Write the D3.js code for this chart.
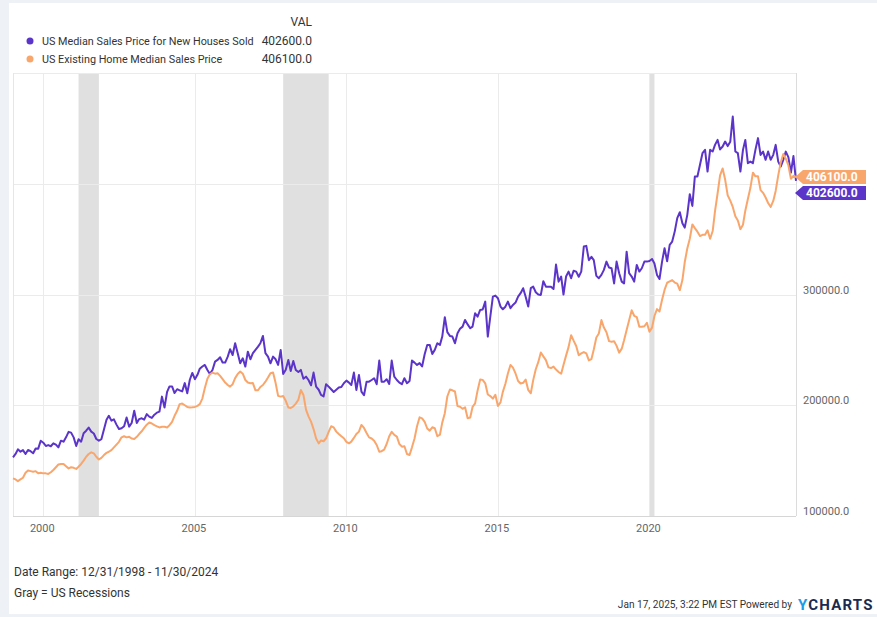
<!DOCTYPE html>
<html>
<head>
<meta charset="utf-8">
<script src="https://cdn.jsdelivr.net/npm/d3@7"></script>
<style>
  body { margin: 0; background: #eef1f5; }
  svg { display: block; font-family: Roboto, "Open Sans", sans-serif; }
</style>
</head>
<body>
<div id="chart"></div>
<script>
// monthly values in thousands of USD, Jan 1999 .. Nov 2024
const firstMonth = new Date(1999, 0, 1);

const newHouseK = [
  153, 156, 160.2, 158.1, 159.5, 156, 159.6, 158.5, 156.6, 161, 160.8, 168,
  166.2, 163.2, 164, 163, 165.6, 164.4, 162, 168, 167.1, 171, 176, 175.3,
  171, 163.2, 169.3, 167.1, 174.7, 177, 179.8, 176.2, 174.5, 169.5, 168, 169.3,
  178, 187, 190.5, 186.1, 187.3, 182.5, 178.5, 179.2, 181, 189, 180.7, 184,
  195, 184, 187.5, 188.2, 187, 192, 189.7, 188.5, 191.5, 193.3, 194.2, 207.8,
  198, 212, 217, 217, 211, 214.5, 213.5, 212.5, 220, 210.8, 223, 229.2,
  223.5, 227.5, 233, 235, 236.4, 231.9, 228.3, 231.9, 239.4, 240.9, 243.3, 238.5,
  238.5, 243.9, 250.6, 245.4, 256, 247, 237.9, 242.4, 234.9, 248.4, 241.5, 247,
  249.9, 252.9, 256, 262.6, 247, 243.9, 237.9, 243.9, 241.5, 236.4, 249.9, 228.3,
  232, 240.9, 231, 240, 231.9, 230, 231.9, 224, 225.8, 222.8, 218, 229.5,
  216.8, 214, 209.3, 208, 219, 216.8, 214.4, 212, 214, 216, 216.5, 219.9,
  222.2, 220.4, 218.3, 229.5, 213.8, 227.4, 212.3, 209, 221.3, 221.3, 222.8, 224.4,
  219, 240.3, 221.3, 221.3, 223.5, 219.2, 240.3, 225.8, 222.8, 220.4, 219, 224.4,
  219.9, 222, 240.3, 238.5, 236.4, 238, 235, 246, 254.5, 254.5, 246.3, 250,
  256, 254.5, 262, 279.5, 266, 262.6, 262, 256, 265, 269, 271, 277,
  273, 269.5, 271, 283.1, 280, 286.1, 286.5, 293.6, 262, 280, 298.1, 299,
  296.6, 289.1, 286.7, 289, 293.6, 287.6, 290.6, 292.7, 298.1, 301.2, 305.7, 298,
  289.1, 305.7, 307.1, 302, 300, 299.6, 312, 307.1, 307.1, 307.1, 305, 327,
  311.6, 316.2, 300, 316.2, 320.7, 314.7, 321.5, 320.7, 316, 320.7, 343.3, 343.9,
  331, 334, 331, 316.8, 314.7, 317.7, 322.2, 329.7, 324.3, 323.7, 310, 329.7,
  319.2, 311.6, 310, 338.7, 319.2, 316.2, 311.6, 326.7, 320.7, 323.7, 329.7, 329.7,
  330.3, 332.1, 328, 317.7, 314, 329.7, 341.8, 330, 344.8, 347.8, 357, 369,
  374.3, 364.4, 360.4, 371.9, 390.6, 380, 406.5, 406.5, 417.1, 427.6, 430.6, 411,
  430.6, 429.1, 435.1, 439.6, 431, 433.6, 438.1, 434, 438, 460.7, 429.1, 427.6,
  411, 430.6, 439.6, 418.6, 420, 418.6, 430.6, 441.2, 426, 429, 421.6, 429.1,
  421.6, 426.1, 435.1, 420, 415.5, 421.6, 429, 424, 410, 425, 402.6
];

const existingK = [
  134, 133, 131.5, 133, 134.5, 139, 141, 140.5, 140, 140.5, 138.5, 139,
  138.5, 138.5, 138, 139.5, 141.5, 144, 146.5, 147, 147, 145, 143, 144,
  143.5, 142.5, 144.5, 147, 150, 153.5, 156, 157.5, 156.5, 153.5, 151, 152.5,
  155, 157, 158, 159.5, 162, 164.5, 167, 171, 172, 171, 171.5, 170,
  169.5, 171.5, 174, 176.5, 179.5, 182.5, 184.5, 183.5, 182, 181, 180, 180.5,
  180.5, 180, 182, 185, 190.5, 195, 201, 201.5, 200, 198.5, 198, 198.2,
  198.5, 199.4, 201, 206, 215.5, 224, 228, 229.5, 228.5, 228.9, 226.5, 223.5,
  220.5, 218.3, 216.8, 219, 224.5, 228.3, 230.4, 228.5, 222.8, 220.5, 219.8, 220,
  213.5, 213.5, 216.5, 218.3, 221.3, 225, 228.9, 229.5, 220, 208.5, 207.8, 208.4,
  204, 198, 197.5, 199, 201.5, 205, 213.8, 209.3, 196, 190, 185.2, 178.5,
  170, 165.6, 168.2, 167.5, 170.2, 176, 181, 180, 176.2, 174, 172, 170.2,
  167, 165.6, 167.1, 170.5, 174, 176.2, 182.2, 179.5, 175, 171, 170, 168,
  164.1, 158, 158.5, 160, 165, 172, 176, 173.2, 171.7, 165, 162.6, 163,
  156, 155.1, 162, 170, 181, 189.1, 188.2, 185, 179, 177.1, 180.1, 179.2,
  172, 173.4, 184.3, 192.8, 207.9, 214.2, 213.5, 212.4, 199.2, 198.6, 196.8, 198.2,
  188.2, 189, 198.5, 201.7, 213.4, 223.3, 222.9, 219.8, 209.7, 208.3, 206, 209.5,
  199.4, 202.6, 212.1, 219.4, 228.7, 236.4, 234, 228.7, 221.9, 219.6, 220.3, 223.2,
  213.8, 210.8, 222.7, 232.5, 238.9, 247.6, 244.1, 240.7, 234.2, 233.6, 234.9, 232.2,
  230, 228.4, 236.4, 244.8, 252.5, 263.3, 258.3, 253.5, 245.1, 246.8, 248, 246.8,
  240.5, 241.7, 250.4, 261.2, 264.8, 276.9, 270.1, 266, 257.9, 257.4, 257.7, 253.6,
  247.5, 251.1, 258.7, 268, 276.8, 285.7, 280.8, 279.6, 270.9, 270.9, 271.3, 274.5,
  266.3, 270.1, 280.6, 286.8, 284.6, 295.3, 304.1, 310.6, 311.8, 313, 310.8, 309.8,
  303.9, 313, 329.1, 341.6, 350.3, 363.3, 359.9, 356.7, 352.8, 353.9, 353.9, 358,
  350.3, 357.3, 375.3, 391.2, 407.6, 413.8, 403.8, 389.5, 384.8, 379.1, 370.7, 366.9,
  359, 363, 375.7, 386.3, 396.1, 410, 406.7, 406.7, 394.3, 391.8, 387.6, 382.6,
  379.1, 384.5, 393.5, 407.6, 419.3, 426.9, 422.6, 416.7, 404.5, 407.2, 406.1
];

const seriesNames = ["US Median Sales Price for New Houses Sold", "US Existing Home Median Sales Price"];
const seriesColors = ["#5b34c9", "#f9a66c"];
const recessions = [["2001-03-01", "2001-11-01"], ["2007-12-01", "2009-06-01"], ["2020-01-01", "2020-03-01"]];
const yTicks = [100000, 200000, 300000, 400000];
const xTickYears = [2000, 2005, 2010, 2015, 2020];

const W = 877, H = 617;
const plot = { left: 13, right: 796, top: 73, bottom: 516 };

const svg = d3.select("#chart").append("svg")
    .attr("width", W)
    .attr("height", H);

// card
svg.append("rect")
    .attr("x", 9).attr("y", 3)
    .attr("width", W - 9).attr("height", 611)
    .attr("fill", "#fff");

const dates = newHouseK.map((d, i) => d3.timeMonth.offset(firstMonth, i));
const lastDate = dates[dates.length - 1];

const x = d3.scaleTime()
    .domain([firstMonth, lastDate])
    .range([plot.left, plot.right]);

const y = d3.scaleLinear()
    .domain([100000, 500000])
    .range([plot.bottom, plot.top]);

// recession bands
svg.append("g").selectAll("rect")
    .data(recessions)
    .enter().append("rect")
    .attr("x", d => x(new Date(d[0] + "T00:00")))
    .attr("width", d => x(new Date(d[1] + "T00:00")) - x(new Date(d[0] + "T00:00")))
    .attr("y", plot.top)
    .attr("height", plot.bottom - plot.top)
    .attr("fill", "#e0e0e0");

// grid
const grid = svg.append("g").attr("stroke", "#ebebeb").attr("stroke-width", 1);
grid.selectAll("line.h")
    .data(yTicks.slice(1).concat([500000]))
    .enter().append("line")
    .attr("x1", plot.left).attr("x2", plot.right)
    .attr("y1", d => Math.round(y(d)) + 0.5).attr("y2", d => Math.round(y(d)) + 0.5);
grid.selectAll("line.v")
    .data(xTickYears)
    .enter().append("line")
    .attr("x1", d => Math.round(x(new Date(d, 0, 1))) + 0.5)
    .attr("x2", d => Math.round(x(new Date(d, 0, 1))) + 0.5)
    .attr("y1", plot.top).attr("y2", plot.bottom);

// frame lines
svg.append("line")
    .attr("x1", plot.left + 0.5).attr("x2", plot.left + 0.5)
    .attr("y1", plot.top).attr("y2", plot.bottom)
    .attr("stroke", "#e6e6e6");
svg.append("line")
    .attr("x1", plot.right + 0.5).attr("x2", plot.right + 0.5)
    .attr("y1", plot.top).attr("y2", plot.bottom)
    .attr("stroke", "#dcdcdc");
svg.append("line")
    .attr("x1", plot.left).attr("x2", plot.right)
    .attr("y1", plot.bottom + 0.5).attr("y2", plot.bottom + 0.5)
    .attr("stroke", "#d6d6d6");

// x axis labels
svg.append("g").selectAll("text")
    .data(xTickYears)
    .enter().append("text")
    .attr("x", d => x(new Date(d, 0, 1)) - 1)
    .attr("y", 532)
    .attr("text-anchor", "middle")
    .attr("font-size", 11)
    .attr("fill", "#666")
    .text(d => d);

// y axis labels (400000 sits under the value tags)
svg.append("g").selectAll("text")
    .data(yTicks.filter(d => d !== 400000))
    .enter().append("text")
    .attr("x", 803)
    .attr("y", d => y(d) - 1)
    .attr("font-size", 11)
    .attr("fill", "#666")
    .text(d => d3.format(".1f")(d));

// lines
const line = d3.line()
    .x((d, i) => x(dates[i]))
    .y(d => y(d * 1000));

[newHouseK, existingK].forEach((vals, k) => {
    svg.append("path")
        .datum(vals)
        .attr("fill", "none")
        .attr("stroke", seriesColors[k])
        .attr("stroke-width", 2)
        .attr("stroke-linejoin", "round")
        .attr("d", line);
});

// value tags at right
const lastNew = newHouseK[newHouseK.length - 1] * 1000;
const lastExisting = existingK[existingK.length - 1] * 1000;
const tagExistingY = y(lastExisting);
const tagNewY = Math.max(y(lastNew), tagExistingY + 16);

function tag(cy, color, value) {
    const g = svg.append("g");
    g.append("path")
        .attr("d", `M${plot.right - 1},${cy} L${plot.right + 7},${cy - 7} L${plot.right + 70},${cy - 7} L${plot.right + 70},${cy + 7} L${plot.right + 7},${cy + 7} Z`)
        .attr("fill", color);
    g.append("text")
        .attr("x", plot.right + 10)
        .attr("y", cy + 4)
        .attr("font-size", 12)
        .attr("font-weight", "bold")
        .attr("fill", "#fff")
        .text(d3.format(".1f")(value));
}
tag(tagExistingY, seriesColors[1], lastExisting);
tag(tagNewY, seriesColors[0], lastNew);

// legend
const legend = svg.append("g").attr("font-size", 12).attr("fill", "#333");
legend.append("text")
    .attr("x", 312).attr("y", 26)
    .attr("text-anchor", "end")
    .text("VAL");
[lastNew, lastExisting].forEach((v, k) => {
    const ly = 41 + k * 18;
    legend.append("circle")
        .attr("cx", 30).attr("cy", ly)
        .attr("r", 3.5)
        .attr("fill", seriesColors[k]);
    legend.append("text")
        .attr("x", 42).attr("y", ly + 4)
        .attr("font-size", 10.8)
        .text(seriesNames[k]);
    legend.append("text")
        .attr("x", 312).attr("y", ly + 4)
        .attr("text-anchor", "end")
        .text(d3.format(".1f")(v));
});

// footer
const foot = svg.append("g").attr("font-size", 12).attr("fill", "#333");
foot.append("text").attr("x", 14).attr("y", 576).text("Date Range: 12/31/1998 - 11/30/2024");
foot.append("text").attr("x", 14).attr("y", 597).text("Gray = US Recessions");
foot.append("text")
    .attr("x", 792).attr("y", 608)
    .attr("text-anchor", "end")
    .attr("font-size", 10.1)
    .text("Jan 17, 2025, 3:22 PM EST Powered by");

const logo = svg.append("text")
    .attr("x", 798).attr("y", 610)
    .attr("font-size", 15)
    .attr("font-weight", "bold")
    .attr("letter-spacing", 1.2);
logo.append("tspan").attr("fill", "#1e9be6").text("Y");
logo.append("tspan").attr("fill", "#1b2a4e").text("CHARTS");
</script>
</body>
</html>
